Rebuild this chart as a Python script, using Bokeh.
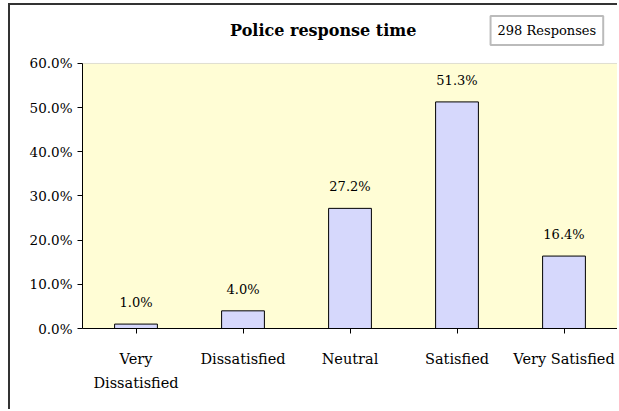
from bokeh.plotting import figure
from bokeh.models import Label, NumeralTickFormatter, FixedTicker, Range1d, BoxAnnotation
from bokeh.embed import file_html
from bokeh.resources import INLINE

categories = ["Very\nDissatisfied", "Dissatisfied", "Neutral", "Satisfied", "Very Satisfied"]
shares = [0.010, 0.040, 0.272, 0.513, 0.164]
share_labels = ["1.0%", "4.0%", "27.2%", "51.3%", "16.4%"]
y_ticks = [0.0, 0.1, 0.2, 0.3, 0.4, 0.5, 0.6]
y_max = 0.6
title_text = "Police response time"
responses_text = "298 Responses"

FONT = "DejaVu Serif"

p = figure(x_range=categories, y_range=Range1d(0, 0.7313), width=609, height=406,
           output_backend="svg", toolbar_location=None,
           min_border_left=72, min_border_right=2, min_border_top=0, min_border_bottom=83)
p.margin = (3, 0, 0, 8)
p.styles = {"border-left": "2px solid #333333", "border-top": "2px solid #333333"}
p.background_fill_color = "white"
p.border_fill_color = "white"
p.outline_line_color = None
p.xgrid.grid_line_color = None
p.ygrid.grid_line_color = None

p.add_layout(BoxAnnotation(bottom=0, top=y_max, fill_color="#FFFDD5", fill_alpha=1,
                           line_color="#999999", line_width=1, level="underlay"))

p.vbar(x=categories, top=shares, width=0.4, fill_color="#D6D8FC",
       line_color="black", line_width=1)

for i, (s, t) in enumerate(zip(shares, share_labels)):
    p.add_layout(Label(x=i + 0.5, y=s, text=t, y_offset=14,
                       text_align="center", text_baseline="bottom",
                       text_font=FONT, text_font_size="13px", text_color="black"))

p.yaxis.ticker = FixedTicker(ticks=y_ticks)
p.yaxis.bounds = (0, y_max)
p.yaxis.formatter = NumeralTickFormatter(format="0.0%")
for ax in (p.xaxis, p.yaxis):
    ax.major_label_text_font = FONT
    ax.major_label_text_color = "black"
    ax.axis_line_color = "black"
    ax.major_tick_line_color = "black"
    ax.minor_tick_line_color = None
    ax.major_tick_in = 0
    ax.major_tick_out = 5
p.yaxis.major_label_text_font_size = "13.5px"
p.xaxis.major_label_text_font_size = "14.5px"
p.xaxis.major_label_text_line_height = 1.55
p.xaxis.major_label_standoff = 17

p.add_layout(Label(x=2.25, y=0.6747, text=title_text,
                   text_align="center", text_baseline="middle", text_font=FONT,
                   text_font_style="bold", text_font_size="16px", text_color="black"))
p.add_layout(Label(x=4.34, y=0.6747, text=responses_text,
                   text_align="center", text_baseline="middle", text_font=FONT,
                   text_font_size="13px", text_color="black",
                   border_line_color="#BBBBBB", border_line_width=2,
                   background_fill_color="white", padding=7))

open("out.html", "w").write(file_html(p, INLINE))
